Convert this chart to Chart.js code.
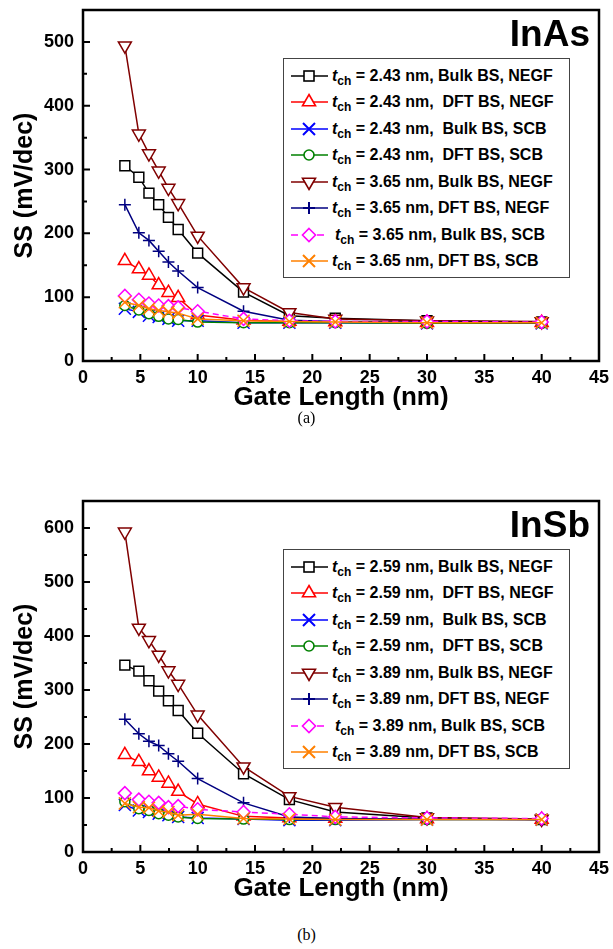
<!DOCTYPE html>
<html>
<head>
<meta charset="utf-8">
<script src="https://cdn.jsdelivr.net/npm/chart.js@4.4.1/dist/chart.umd.min.js"></script>
<style>
  html, body { margin: 0; padding: 0; background: #fff; }
  body { width: 613px; height: 949px; position: relative; overflow: hidden; font-family: "Liberation Sans", Arial, sans-serif; }
  .panel { position: absolute; left: 0; width: 613px; height: 410px; }
  .panel canvas { position: absolute; left: 0; top: 0; }
  .mat { position: absolute; right: 23px; top: 15px; font: bold 37px/37px "Liberation Sans", Arial, sans-serif; color: #000; }
  .legend { position: absolute; left: 283px; top: 58px; width: 285px; height: 218px; border: 1px solid #444; background: #fff; }
  .row { position: absolute; left: 0; height: 26px; width: 285px; }
  .row svg { position: absolute; left: 6px; top: 0; }
  .row .txt { position: absolute; left: 48px; top: 0; font: bold 16px/26px "Liberation Sans", Arial, sans-serif; white-space: pre; color: #000; }
  .row .txt i { font-style: italic; }
  .row .txt sub { font-size: 12px; vertical-align: -4px; line-height: 0; }
  .cap { position: absolute; left: 0; width: 613px; text-align: center; font: 16px "Liberation Serif", "Times New Roman", serif; color: #000; }
</style>
</head>
<body>
<div class="panel" id="panelA" style="top:0px">
  <canvas id="chartA" width="613" height="410"></canvas>
  <div class="mat">InAs</div>
  <div class="legend" id="legendA"></div>
</div>
<div class="cap" style="top:409px">(a)</div>
<div class="panel" id="panelB" style="top:491px">
  <canvas id="chartB" width="613" height="410"></canvas>
  <div class="mat">InSb</div>
  <div class="legend" id="legendB"></div>
</div>
<div class="cap" style="top:926px">(b)</div>
<script>
// ---------------- DATA ----------------
const gateLength = [3.65, 4.87, 5.75, 6.6, 7.45, 8.3, 10, 14, 18, 22, 30, 40];

// (a) InAs
const inasLabels = [
  ["2.43", "Bulk BS, NEGF", " "],
  ["2.43", "DFT BS, NEGF", "  "],
  ["2.43", "Bulk BS, SCB", "  "],
  ["2.43", "DFT BS, SCB", "  "],
  ["3.65", "Bulk BS, NEGF", " "],
  ["3.65", "DFT BS, NEGF", " "],
  ["3.65", "Bulk BS, SCB", " "],
  ["3.65", "DFT BS, SCB", " "]
];
const inasBulkNegf243 = [306, 288, 263, 245, 225, 206, 169, 108, 71, 67, 63, 61];
const inasDftNegf243  = [157, 144, 134, 119, 107, 99, 72, 64, 62, 61, 60, 60];
const inasBulkScb243  = [82, 77, 71, 69, 66, 63, 63, 60, 60, 60, 59, 59];
const inasDftScb243   = [87, 80, 74, 70, 66, 65, 61, 60, 60, 60, 59, 59];
const inasBulkNegf365 = [494, 356, 325, 298, 271, 247, 196, 115, 76, 66, 63, 62];
const inasDftNegf365  = [245, 201, 189, 172, 155, 141, 115, 78, 64, 62, 61, 60];
const inasBulkScb365  = [102, 96, 90, 87, 86, 84, 78, 66, 63, 62, 62, 61];
const inasDftScb365   = [92, 87, 82, 79, 77, 75, 66, 63, 62, 61, 60, 60];

// (b) InSb
const insbLabels = [
  ["2.59", "Bulk BS, NEGF", " "],
  ["2.59", "DFT BS, NEGF", "  "],
  ["2.59", "Bulk BS, SCB", "  "],
  ["2.59", "DFT BS, SCB", "  "],
  ["3.89", "Bulk BS, NEGF", " "],
  ["3.89", "DFT BS, NEGF", " "],
  ["3.89", "Bulk BS, SCB", " "],
  ["3.89", "DFT BS, SCB", " "]
];
const insbBulkNegf259 = [346, 335, 317, 298, 280, 262, 220, 145, 97, 74, 63, 60];
const insbDftNegf259  = [180, 167, 150, 138, 127, 112, 89, 66, 63, 62, 61, 60];
const insbBulkScb259  = [87, 77, 74, 71, 68, 65, 63, 61, 59, 59, 60, 60];
const insbDftScb259   = [93, 80, 77, 71, 68, 65, 62, 61, 60, 60, 60, 60];
const insbBulkNegf389 = [593, 415, 392, 365, 336, 311, 254, 158, 103, 83, 64, 61];
const insbDftNegf389  = [246, 219, 205, 197, 182, 168, 136, 91, 65, 62, 61, 60];
const insbBulkScb389  = [109, 97, 93, 91, 83, 85, 79, 74, 70, 65, 63, 62];
const insbDftScb389   = [90, 83, 82, 76, 74, 68, 70, 62, 61, 60, 60, 60];

const xTickLabels = [0, 5, 10, 15, 20, 25, 30, 35, 40, 45];
const yTickLabelsA = [0, 100, 200, 300, 400, 500];
const yTickLabelsB = [0, 100, 200, 300, 400, 500, 600];

// ---------------- STYLES ----------------
const seriesStyle = [
  { color: '#000000', point: 'rect',     radius: 7,   rotation: 0,   dash: [] },
  { color: '#ff0000', point: 'triangle', radius: 7.5, rotation: 0,   dash: [] },
  { color: '#0000ff', point: 'crossRot', radius: 8.5, rotation: 0,   dash: [] },
  { color: '#008000', point: 'circle',   radius: 5,   rotation: 0,   dash: [] },
  { color: '#800000', point: 'triangle', radius: 7.5, rotation: 180, dash: [] },
  { color: '#000080', point: 'cross',    radius: 6,   rotation: 0,   dash: [] },
  { color: '#ff00ff', point: 'rectRot',  radius: 6.5, rotation: 0,   dash: [6, 4] },
  { color: '#ff8000', point: 'crossRot', radius: 8.5, rotation: 0,   dash: [] }
];

function buildDatasets(seriesList) {
  return seriesList.map((vals, i) => {
    const s = seriesStyle[i];
    return {
      data: gateLength.map((g, k) => ({ x: g, y: vals[k] })),
      borderColor: s.color,
      backgroundColor: s.color,
      borderWidth: 1.5,
      borderDash: s.dash,
      pointStyle: s.point,
      pointRadius: s.radius,
      pointHoverRadius: s.radius,
      pointRotation: s.rotation,
      pointBorderColor: s.color,
      pointBackgroundColor: '#ffffff',
      pointBorderWidth: 1.5,
      tension: 0,
      fill: false,
      order: seriesList.length - i
    };
  });
}

const frameTicks = {
  id: 'frameTicks',
  afterDatasetsDraw(chart) {
    const { ctx, chartArea: { left, right, top, bottom }, scales: { x, y } } = chart;
    ctx.save();
    ctx.strokeStyle = '#000';
    ctx.lineWidth = 2.5;
    ctx.strokeRect(left, top, right - left, bottom - top);
    ctx.lineWidth = 2;
    ctx.beginPath();
    const xs = x.ticks.map(t => t.value);
    for (let i = 0; i < xs.length; i++) {
      const px = x.getPixelForValue(xs[i]);
      ctx.moveTo(px, bottom); ctx.lineTo(px, bottom - 7);
      if (i < xs.length - 1) {
        const pm = x.getPixelForValue((xs[i] + xs[i + 1]) / 2);
        ctx.moveTo(pm, bottom); ctx.lineTo(pm, bottom - 4);
      }
    }
    const ys = y.ticks.map(t => t.value);
    for (let i = 0; i < ys.length; i++) {
      const py = y.getPixelForValue(ys[i]);
      ctx.moveTo(left, py); ctx.lineTo(left + 7, py);
      const mid = ys[i] + 50;
      if (mid < y.max) {
        const pm = y.getPixelForValue(mid);
        ctx.moveTo(left, pm); ctx.lineTo(left + 4, pm);
      }
    }
    ctx.stroke();
    ctx.restore();
  }
};

function makeChart(id, seriesList, yMax, yLabels) {
  const tickFont = { family: '"Liberation Sans", Arial, sans-serif', size: 18, weight: 'bold' };
  return new Chart(document.getElementById(id), {
    type: 'line',
    data: { datasets: buildDatasets(seriesList) },
    plugins: [frameTicks],
    options: {
      responsive: false,
      animation: false,
      devicePixelRatio: 1,
      layout: { padding: { top: 7, right: 14, left: 0, bottom: 0 } },
      plugins: { legend: { display: false }, tooltip: { enabled: false } },
      scales: {
        x: {
          type: 'linear', min: xTickLabels[0], max: xTickLabels[xTickLabels.length - 1],
          afterBuildTicks: (sc) => { sc.ticks = xTickLabels.map(v => ({ value: v })); },
          afterFit: (sc) => { sc.height = 49; sc.paddingLeft = 0; sc.paddingRight = 0; },
          grid: { display: false, drawTicks: false },
          border: { display: false },
          ticks: { font: tickFont, color: '#000', padding: 6, maxRotation: 0, autoSkip: false },
          title: { display: true, text: 'Gate Length (nm)', color: '#000', padding: { top: 0, bottom: -3 },
                   font: { family: '"Liberation Sans", Arial, sans-serif', size: 26, weight: 'bold' } }
        },
        y: {
          type: 'linear', min: 0, max: yMax,
          afterBuildTicks: (sc) => { sc.ticks = yLabels.map(v => ({ value: v })); },
          afterFit: (sc) => { sc.width = 83; sc.paddingTop = 0; sc.paddingBottom = 0; },
          grid: { display: false, drawTicks: false },
          border: { display: false },
          ticks: { font: tickFont, color: '#000', padding: 9, autoSkip: false },
          title: { display: true, text: 'SS (mV/dec)', color: '#000', padding: { top: 10, bottom: 0 },
                   font: { family: '"Liberation Sans", Arial, sans-serif', size: 25, weight: 'bold' } }
        }
      }
    }
  });
}

makeChart('chartA', [inasBulkNegf243, inasDftNegf243, inasBulkScb243, inasDftScb243,
                     inasBulkNegf365, inasDftNegf365, inasBulkScb365, inasDftScb365], 550, yTickLabelsA);
makeChart('chartB', [insbBulkNegf259, insbDftNegf259, insbBulkScb259, insbDftScb259,
                     insbBulkNegf389, insbDftNegf389, insbBulkScb389, insbDftScb389], 650, yTickLabelsB);

// ---------------- LEGENDS ----------------
function markerSvg(i) {
  const s = seriesStyle[i];
  const c = s.color, cx = 19, cy = 13;
  let line = `<line x1="1" y1="${cy}" x2="38" y2="${cy}" stroke="${c}" stroke-width="1.6"/>`;
  if (s.dash.length) line = `<line x1="1" y1="${cy}" x2="34" y2="${cy}" stroke="${c}" stroke-width="1.6" stroke-dasharray="7 19"/>`;
  let m = '';
  const sw = 'stroke-width="1.6"';
  if (s.point === 'rect') m = `<rect x="${cx-5}" y="${cy-5}" width="10" height="10" fill="#fff" stroke="${c}" ${sw}/>`;
  else if (s.point === 'triangle' && s.rotation === 0) m = `<polygon points="${cx},${cy-7.5} ${cx+6.5},${cy+3.75} ${cx-6.5},${cy+3.75}" fill="#fff" stroke="${c}" ${sw}/>`;
  else if (s.point === 'triangle') m = `<polygon points="${cx},${cy+7.5} ${cx+6.5},${cy-3.75} ${cx-6.5},${cy-3.75}" fill="#fff" stroke="${c}" ${sw}/>`;
  else if (s.point === 'crossRot') m = `<path d="M${cx-6},${cy-6}L${cx+6},${cy+6}M${cx+6},${cy-6}L${cx-6},${cy+6}" stroke="${c}" stroke-width="2"/>`;
  else if (s.point === 'circle') m = `<circle cx="${cx}" cy="${cy}" r="5" fill="#fff" stroke="${c}" ${sw}/>`;
  else if (s.point === 'cross') m = `<path d="M${cx-6},${cy}L${cx+6},${cy}M${cx},${cy-6}L${cx},${cy+6}" stroke="${c}" stroke-width="2"/>`;
  else if (s.point === 'rectRot') m = `<polygon points="${cx},${cy-6.5} ${cx+6.5},${cy} ${cx},${cy+6.5} ${cx-6.5},${cy}" fill="#fff" stroke="${c}" ${sw}/>`;
  return `<svg width="40" height="26" viewBox="0 0 40 26">${line}${m}</svg>`;
}

function buildLegend(id, labels) {
  const el = document.getElementById(id);
  let html = '';
  labels.forEach((lab, i) => {
    const top = 4 + i * 26.43;
    const extra = (i === 6) ? ' style="left:51px"' : '';
    html += `<div class="row" style="top:${top}px">${markerSvg(i)}<span class="txt"${extra}><i>t</i><sub>ch</sub> = ${lab[0]} nm,${lab[2]}${lab[1]}</span></div>`;
  });
  el.innerHTML = html;
}
buildLegend('legendA', inasLabels);
buildLegend('legendB', insbLabels);
</script>
</body>
</html>
